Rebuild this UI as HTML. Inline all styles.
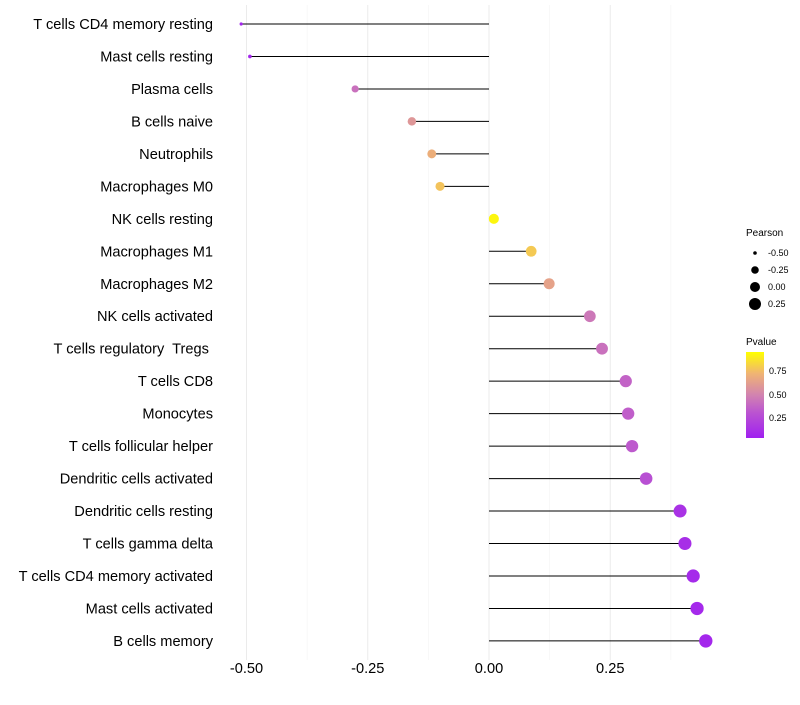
<!DOCTYPE html>
<html><head><meta charset="utf-8"><style>
body{margin:0;background:#fff;font-family:"Liberation Sans",sans-serif;}
svg text{font-family:"Liberation Sans",sans-serif;white-space:pre;}
</style></head><body>
<svg id="chart" width="800" height="700">
<defs><linearGradient id="pg" x1="0" y1="1" x2="0" y2="0">
<stop offset="0" stop-color="#a020f0"/><stop offset="0.3" stop-color="#bb55d0"/><stop offset="0.5" stop-color="#d283b0"/><stop offset="0.75" stop-color="#f0b473"/><stop offset="1" stop-color="#ffff00"/></linearGradient></defs>
<g id="grid"></g><g id="marks"></g><g id="labels"></g>
<g font-size="9">
<text x="746" y="236" font-size="10">Pearson</text>
<circle cx="755" cy="253" r="1.8" fill="#000"/><text x="768" y="256">-0.50</text>
<circle cx="755" cy="270" r="3.8" fill="#000"/><text x="768" y="273">-0.25</text>
<circle cx="755" cy="287" r="5" fill="#000"/><text x="768" y="290">0.00</text>
<circle cx="755" cy="304" r="6" fill="#000"/><text x="768" y="307">0.25</text>
<text x="746" y="345" font-size="10">Pvalue</text>
<rect x="746" y="352" width="18" height="86" fill="url(#pg)"/>
<text x="769" y="374">0.75</text><text x="769" y="398">0.50</text><text x="769" y="421">0.25</text>
</g>
</svg>
<script>
const cells=["T cells CD4 memory resting","Mast cells resting","Plasma cells","B cells naive","Neutrophils","Macrophages M0","NK cells resting","Macrophages M1","Macrophages M2","NK cells activated","T cells regulatory  Tregs ","T cells CD8","Monocytes","T cells follicular helper","Dendritic cells activated","Dendritic cells resting","T cells gamma delta","T cells CD4 memory activated","Mast cells activated","B cells memory"];
const pearson=[-0.511,-0.493,-0.276,-0.159,-0.118,-0.101,0.010,0.087,0.124,0.208,0.233,0.282,0.287,0.295,0.324,0.394,0.404,0.421,0.429,0.447];
const pvalue=[0.03,0.04,0.42,0.6,0.72,0.8,0.97,0.82,0.66,0.45,0.42,0.36,0.34,0.32,0.27,0.1,0.08,0.06,0.05,0.04];
const xticks=[-0.5,-0.25,0,0.25];
const xtickLabels=["-0.50","-0.25","0.00","0.25"];
const NS="http://www.w3.org/2000/svg";
const x=v=>489+v*485;
const y=i=>24+i*32.47;
const rad=v=>Math.sqrt(Math.max(2,25+44*v));
const stops=[[0,[160,32,240]],[0.3,[187,85,208]],[0.5,[210,131,176]],[0.75,[240,180,115]],[1,[255,255,0]]];
function col(p){for(let k=1;k<stops.length;k++){if(p<=stops[k][0]){const a=stops[k-1],b=stops[k];const t=(p-a[0])/(b[0]-a[0]);return "rgb("+a[1].map((c,j)=>Math.round(c+(b[1][j]-c)*t)).join(",")+")";}}return "rgb(255,255,0)";}
function mk(t,at,par){const e=document.createElementNS(NS,t);for(const k in at)e.setAttribute(k,at[k]);document.getElementById(par).appendChild(e);return e;}
const minor=[-0.375,-0.125,0.125,0.375];
minor.forEach(v=>{const l=mk("line",{x1:x(v),x2:x(v),y1:5,y2:660,stroke:"#f2f2f2","stroke-width":0.6},"grid");

});
xticks.forEach((v,i)=>{const l=mk("line",{x1:x(v),x2:x(v),y1:5,y2:660,stroke:"#ebebeb","stroke-width":1},"grid");


const t=mk("text",{x:x(v),y:673,"text-anchor":"middle","font-size":"14.6",fill:"#000"},"labels");t.textContent=xtickLabels[i];

});
cells.forEach((c,i)=>{
const t=mk("text",{x:213,y:y(i)+5,"text-anchor":"end","font-size":"14.6",fill:"#000"},"labels");t.textContent=c;


const l=mk("line",{x1:x(0),x2:x(pearson[i]),y1:y(i),y2:y(i),stroke:"#000","stroke-width":1},"marks");


const p=mk("circle",{cx:x(pearson[i]),cy:y(i),r:rad(pearson[i]),fill:col(pvalue[i])},"marks");


});
</script>
</body></html>
